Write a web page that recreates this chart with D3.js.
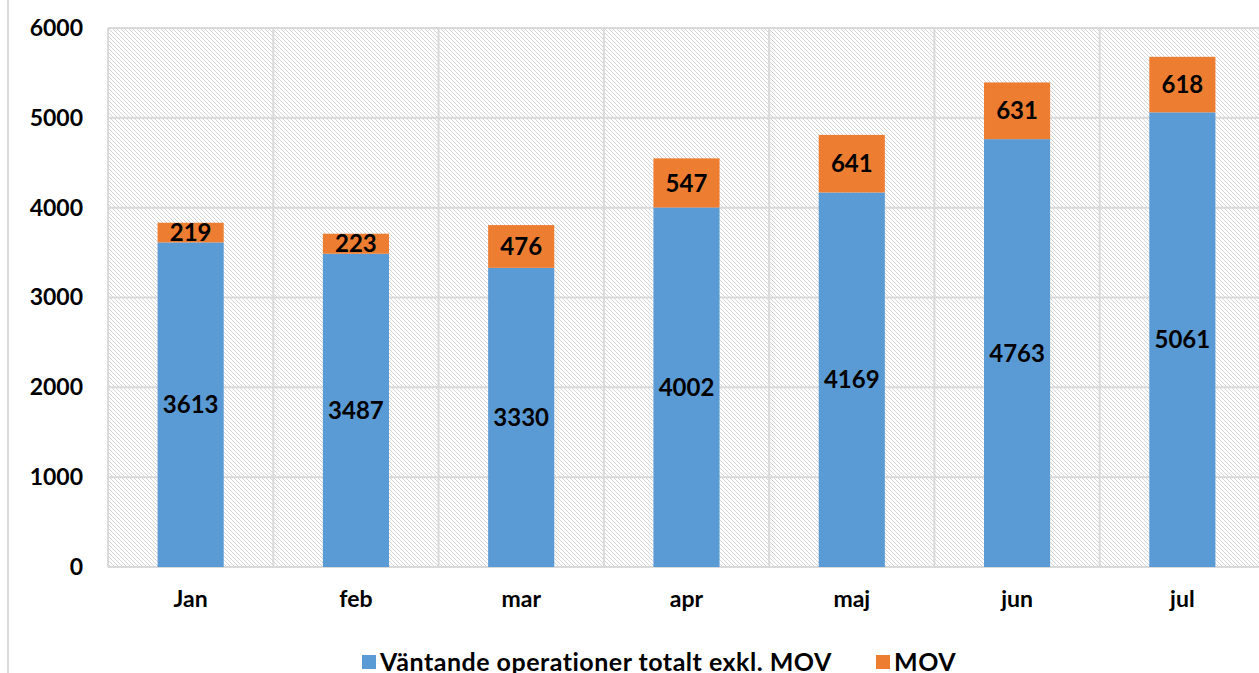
<!DOCTYPE html>
<html>
<head>
<meta charset="utf-8">
<script src="https://cdn.jsdelivr.net/npm/d3@7"></script>
<style>
  html, body { margin: 0; padding: 0; background: #fff; }
  svg { display: block; font-family: Lato, "Open Sans", sans-serif; }
</style>
</head>
<body>
<svg id="chart" width="1259" height="673"></svg>
<script>
// chart data
const months = ['Jan', 'feb', 'mar', 'apr', 'maj', 'jun', 'jul'];
const waiting = [3613, 3487, 3330, 4002, 4169, 4763, 5061];
const mov = [219, 223, 476, 547, 641, 631, 618];
const seriesNames = ['Väntande operationer totalt exkl. MOV', 'MOV'];
const seriesColors = ['#5b9bd5', '#ed7d31'];
const yTicks = [0, 1000, 2000, 3000, 4000, 5000, 6000];

const svg = d3.select('#chart');
const W = 1259, H = 673;
const plot = { left: 108, top: 28, right: 1265, bottom: 567 };

// outer chart border (only the left edge is visible)
svg.append('line')
    .attr('x1', 8).attr('x2', 8).attr('y1', 0).attr('y2', H)
    .attr('stroke', '#d9d9d9').attr('stroke-width', 2);

// hatch pattern for the plot background
const defs = svg.append('defs');
const pat = defs.append('pattern')
    .attr('id', 'hatch')
    .attr('patternUnits', 'userSpaceOnUse')
    .attr('width', 4).attr('height', 4);
pat.append('path')
    .attr('d', 'M-1,-1 L5,5 M-1,3 L1,5 M3,-1 L5,1')
    .attr('stroke', '#d4d4d4').attr('stroke-width', 1);

const x = d3.scaleBand()
    .domain(months)
    .range([plot.left, plot.right])
    .paddingInner(0.6)
    .paddingOuter(0.3);

const xCat = d3.scaleBand().domain(months).range([plot.left, plot.right]);

const y = d3.scaleLinear().domain([0, 6000]).range([plot.bottom, plot.top]);

svg.append('rect')
    .attr('x', plot.left).attr('y', plot.top)
    .attr('width', plot.right - plot.left).attr('height', plot.bottom - plot.top)
    .attr('fill', 'url(#hatch)');

// gridlines
const grid = svg.append('g').attr('stroke', '#d9d9d9').attr('stroke-width', 2);
grid.selectAll('.hg').data(yTicks).join('line')
    .attr('x1', plot.left).attr('x2', plot.right)
    .attr('y1', d => y(d)).attr('y2', d => y(d));
grid.selectAll('.vg').data(months).join('line')
    .attr('x1', d => xCat(d)).attr('x2', d => xCat(d))
    .attr('y1', plot.top).attr('y2', plot.bottom);

// y axis labels
const yAxis = svg.append('g')
    .attr('transform', `translate(${plot.left - 25},0)`)
    .call(d3.axisLeft(y).tickValues(yTicks).tickFormat(d3.format('d')).tickSize(0).tickPadding(0));
yAxis.select('.domain').remove();
yAxis.selectAll('text')
    .attr('font-size', 23).attr('font-weight', 'bold')
    .attr('font-family', 'Lato, "Open Sans", sans-serif')
    .attr('fill', '#000');

// x axis labels
const xAxis = svg.append('g')
    .attr('transform', `translate(0,${plot.bottom + 24})`)
    .call(d3.axisBottom(xCat).tickSize(0).tickPadding(0));
xAxis.select('.domain').remove();
xAxis.selectAll('text')
    .attr('font-size', 23).attr('font-weight', 'bold')
    .attr('font-family', 'Lato, "Open Sans", sans-serif')
    .attr('fill', '#000');

// stacked bars
const rows = months.map((m, i) => ({ month: m, waiting: waiting[i], mov: mov[i] }));
const stack = d3.stack().keys(['waiting', 'mov'])(rows);

const layers = svg.selectAll('.layer').data(stack).join('g')
    .attr('fill', (d, i) => seriesColors[i]);
layers.selectAll('rect').data(d => d).join('rect')
    .attr('x', d => x(d.data.month))
    .attr('width', x.bandwidth())
    .attr('y', d => y(d[1]))
    .attr('height', d => y(d[0]) - y(d[1]));

// value labels
stack.forEach(layer => {
    svg.append('g').selectAll('text').data(layer).join('text')
        .attr('x', d => x(d.data.month) + x.bandwidth() / 2)
        .attr('y', d => (y(d[0]) + y(d[1])) / 2)
        .attr('dy', '0.36em')
        .attr('text-anchor', 'middle')
        .attr('font-size', 24).attr('font-weight', 'bold')
        .attr('fill', '#000')
        .text(d => d[1] - d[0]);
});

// legend
const legend = svg.append('g').attr('transform', 'translate(362,662)');
const legendX = [0, 514];
seriesNames.forEach((name, i) => {
    const g = legend.append('g').attr('transform', `translate(${legendX[i]},0)`);
    g.append('rect').attr('x', 0).attr('y', -7).attr('width', 14).attr('height', 14)
        .attr('fill', seriesColors[i]);
    g.append('text').attr('x', 18).attr('y', 0).attr('dy', '0.36em')
        .attr('font-size', 25).attr('font-weight', 'bold').attr('fill', '#000')
        .attr('letter-spacing', 0.5)
        .text(name);
});
</script>
</body>
</html>
